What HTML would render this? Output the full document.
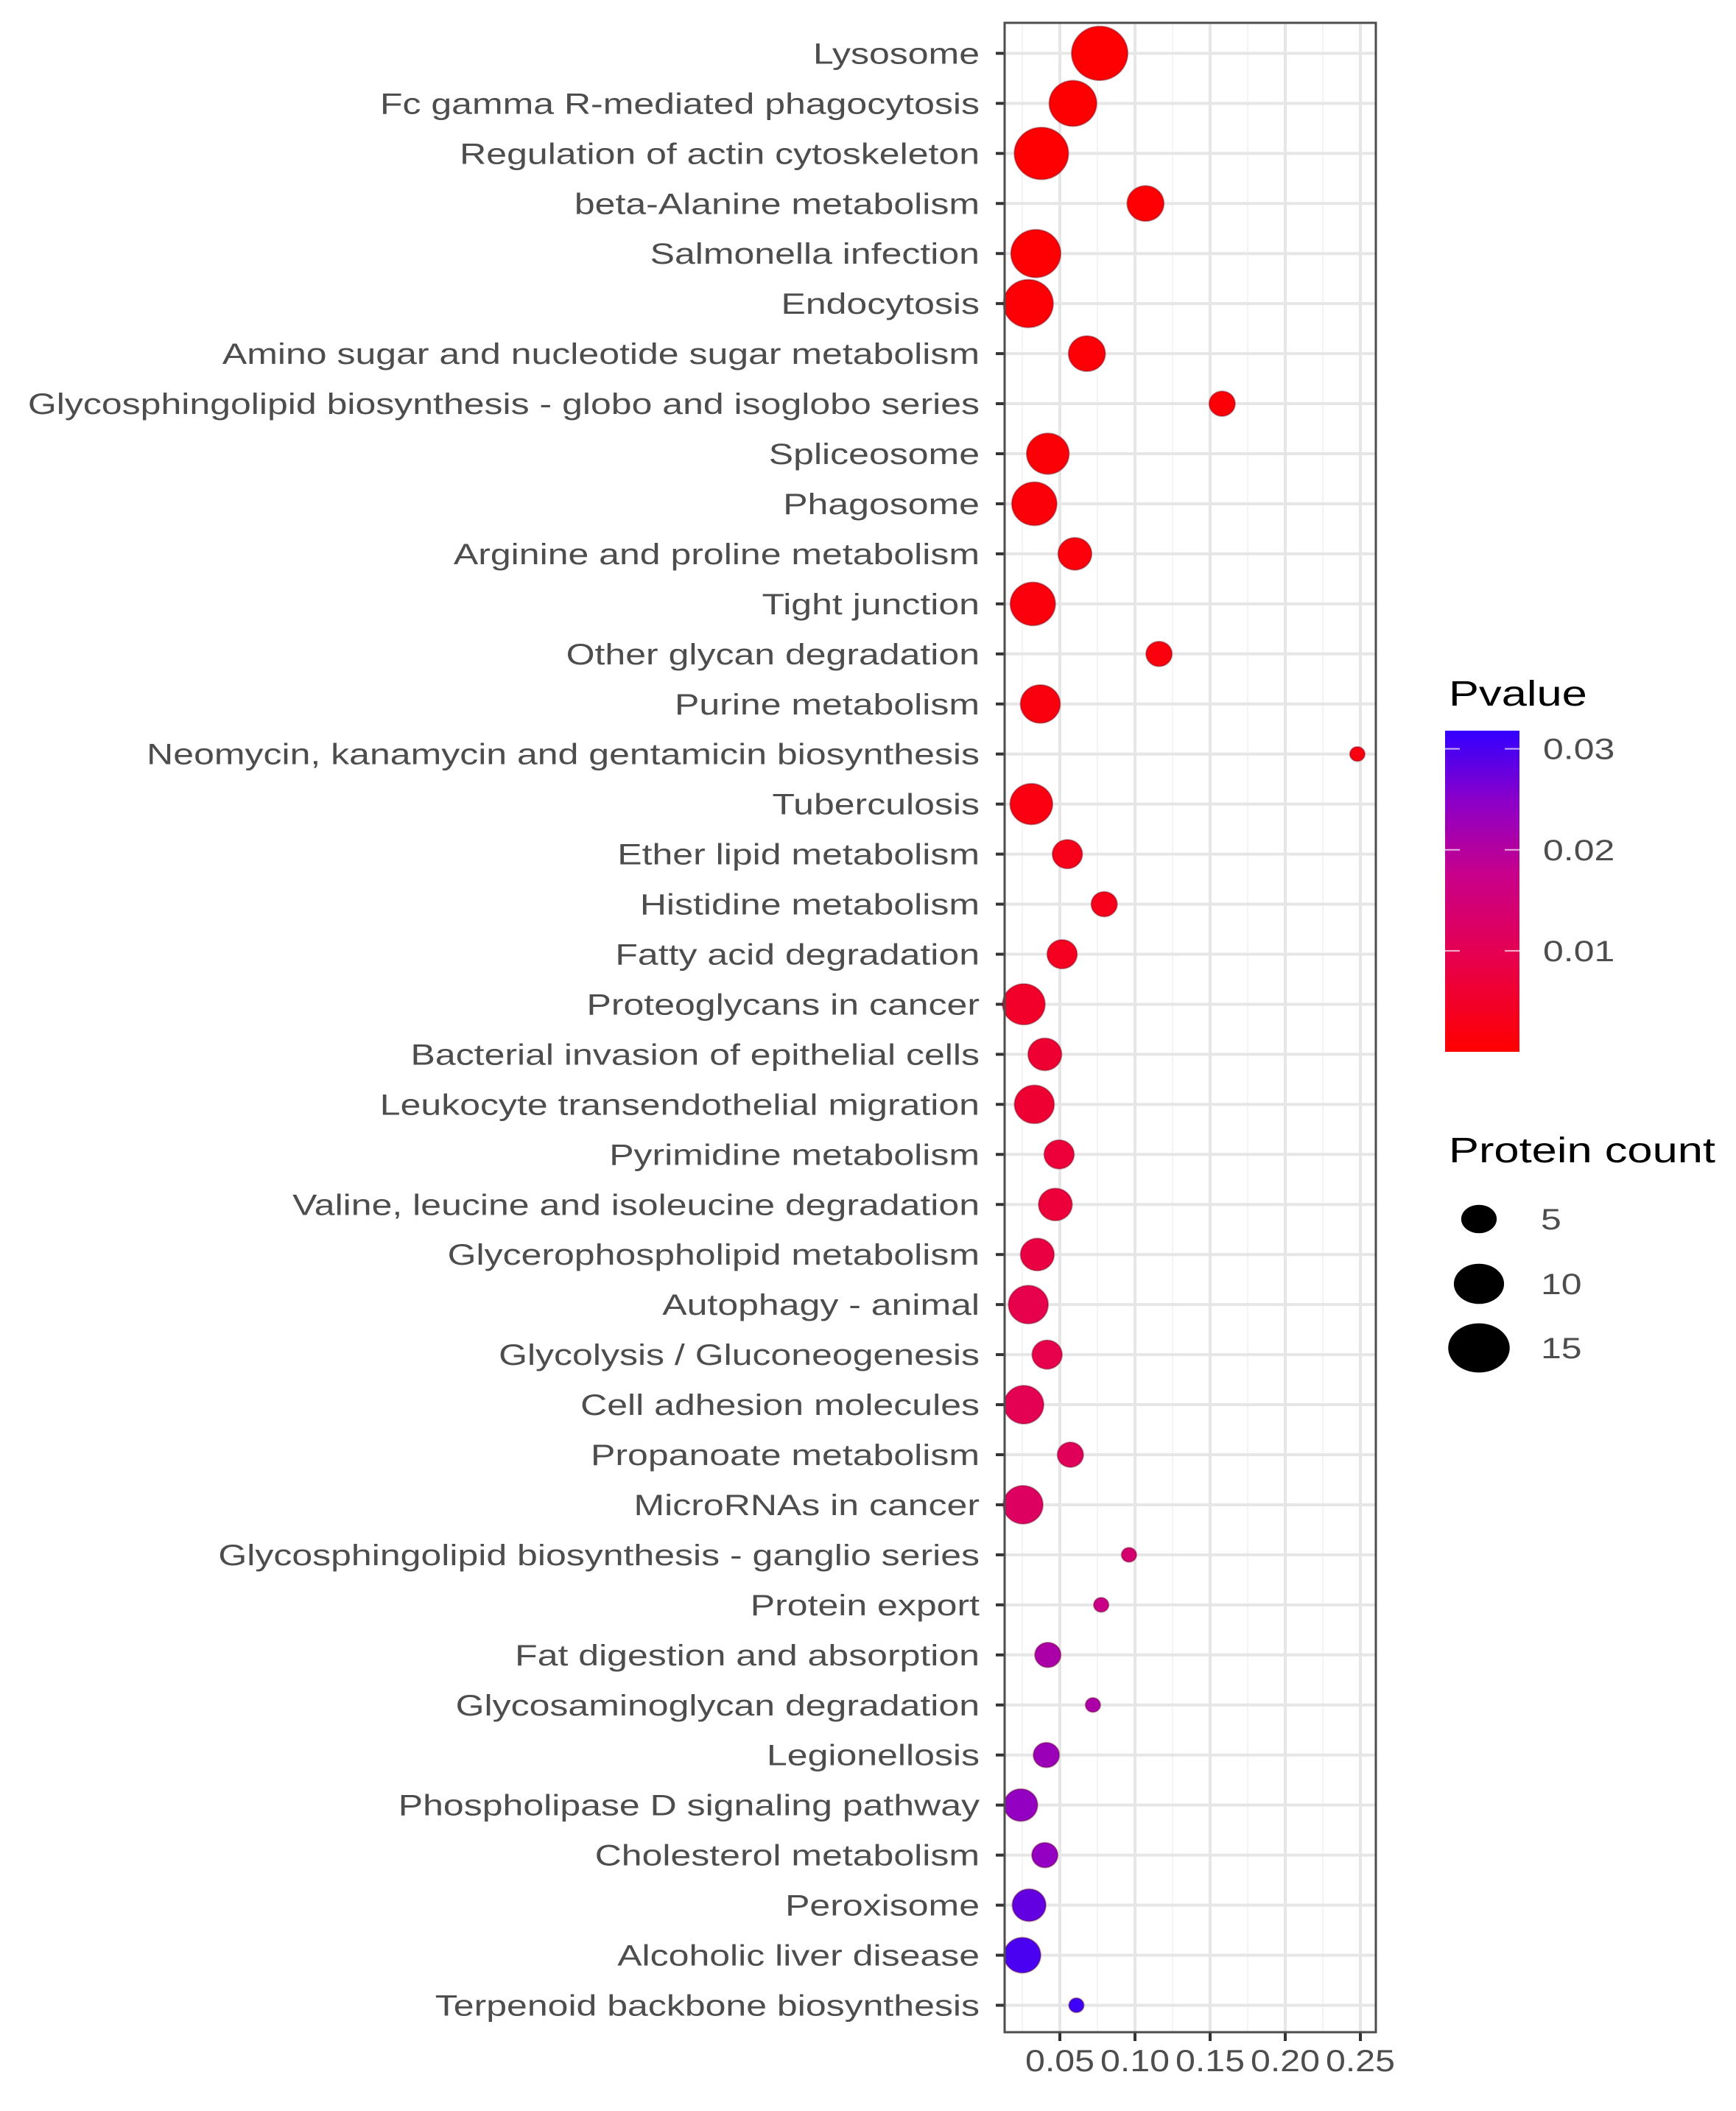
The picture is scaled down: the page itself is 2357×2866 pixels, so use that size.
<!DOCTYPE html>
<html><head><meta charset="utf-8"><style>
html,body{margin:0;padding:0;background:#fff;}
svg{display:block;font-family:"Liberation Sans",Arial,sans-serif;}
</style></head><body>
<svg id="chart" width="2357" height="2866" viewBox="0 0 2357 2866" xmlns="http://www.w3.org/2000/svg">
<defs>
<linearGradient id="pgrad" x1="0" y1="1" x2="0" y2="0">
<stop offset="0" stop-color="#ff0000"/>
<stop offset="0.3" stop-color="#e6004f"/>
<stop offset="0.55" stop-color="#c8008a"/>
<stop offset="0.78" stop-color="#8c00c8"/>
<stop offset="1" stop-color="#3300ff"/>
</linearGradient>
</defs>
<rect x="0" y="0" width="2357" height="2866" fill="#fff"/>
<g id="grid"></g>
<g id="yaxis"></g>
<g id="xaxis"></g>
<g id="points"></g>
<rect x="1364" y="31" width="504" height="2728" fill="none" stroke="#4d4d4d" stroke-width="3"/>
<g>
<text transform="translate(1967,958) scale(1.28,1)" font-size="48" fill="#000">Pvalue</text>
<rect x="1962" y="992" width="101" height="436" fill="url(#pgrad)"/>
<g id="cbticks"></g>
</g>
<g>
<text transform="translate(1967,1578) scale(1.28,1)" font-size="48" fill="#000">Protein count</text>
<g id="sizeleg"></g>
</g>
</svg>
<script>
const categories = ["Lysosome","Fc gamma R-mediated phagocytosis","Regulation of actin cytoskeleton","beta-Alanine metabolism","Salmonella infection","Endocytosis","Amino sugar and nucleotide sugar metabolism","Glycosphingolipid biosynthesis - globo and isoglobo series","Spliceosome","Phagosome","Arginine and proline metabolism","Tight junction","Other glycan degradation","Purine metabolism","Neomycin, kanamycin and gentamicin biosynthesis","Tuberculosis","Ether lipid metabolism","Histidine metabolism","Fatty acid degradation","Proteoglycans in cancer","Bacterial invasion of epithelial cells","Leukocyte transendothelial migration","Pyrimidine metabolism","Valine, leucine and isoleucine degradation","Glycerophospholipid metabolism","Autophagy - animal","Glycolysis / Gluconeogenesis","Cell adhesion molecules","Propanoate metabolism","MicroRNAs in cancer","Glycosphingolipid biosynthesis - ganglio series","Protein export","Fat digestion and absorption","Glycosaminoglycan degradation","Legionellosis","Phospholipase D signaling pathway","Cholesterol metabolism","Peroxisome","Alcoholic liver disease","Terpenoid backbone biosynthesis"];
const richFactor = [0.0765,0.0587,0.0377,0.107,0.034,0.029,0.068,0.158,0.042,0.033,0.060,0.032,0.116,0.037,0.248,0.031,0.055,0.0795,0.0515,0.026,0.040,0.033,0.0495,0.047,0.035,0.029,0.0415,0.026,0.057,0.0255,0.096,0.0775,0.042,0.072,0.041,0.024,0.040,0.0295,0.025,0.061];
const proteinCount = [14,10,13,6,11,11,6,3,8,9,5,9,3,7,1,8,4,3,4,8,5,7,4,5,5,7,4,7,3,7,1,1,3,1,3,5,3,5,6,1];
const pValue = [0.0002,0.0003,0.0003,0.0004,0.0005,0.0006,0.0008,0.001,0.001,0.0012,0.0013,0.0015,0.0016,0.0018,0.002,0.002,0.003,0.003,0.004,0.005,0.006,0.006,0.007,0.007,0.008,0.009,0.009,0.010,0.011,0.012,0.014,0.017,0.021,0.021,0.023,0.024,0.024,0.028,0.030,0.031];
const xTicks = [0.05,0.10,0.15,0.20,0.25];
const xTickLabels = ["0.05","0.10","0.15","0.20","0.25"];
const xMinor = [0.025,0.075,0.125,0.175,0.225];
const pTicks = [0.01,0.02,0.03];
const pTickLabels = ["0.01","0.02","0.03"];
const sizeBreaks = [5,10,15];

const NS="http://www.w3.org/2000/svg";
const PX0=1364, PX1=1868, PY0=31, PY1=2759;
const SX=1.25;
const xScale = v => 1337 + v*2040;
const yScale = i => 72.4 + i*67.95;
const rScale = c => 9.8*Math.sqrt(c);
const pY = p => 1428 - (p/0.0318)*436;
const stops=[[0,[255,0,0]],[0.3,[230,0,79]],[0.55,[200,0,138]],[0.78,[140,0,200]],[1,[51,0,255]]];
function pColor(p){let t=Math.max(0,Math.min(1,p/0.0318));for(let k=1;k<stops.length;k++){if(t<=stops[k][0]){const a=stops[k-1],b=stops[k];const u=(t-a[0])/(b[0]-a[0]);const c=a[1].map((x,j)=>Math.round(x+(b[1][j]-x)*u));return `rgb(${c[0]},${c[1]},${c[2]})`;}}return "rgb(51,0,255)";}
function mk(tag,attrs,parent){const e=document.createElementNS(NS,tag);for(const k in attrs)e.setAttribute(k,attrs[k]);parent.appendChild(e);return e;}
const grid=document.getElementById('grid'),yaxis=document.getElementById('yaxis'),xaxis=document.getElementById('xaxis'),pts=document.getElementById('points');
xMinor.forEach(v=>{const l=mk('line',{x1:xScale(v),x2:xScale(v),y1:PY0,y2:PY1,stroke:'#f4f4f4','stroke-width':2},grid);

});
xTicks.forEach((v,i)=>{const l=mk('line',{x1:xScale(v),x2:xScale(v),y1:PY0,y2:PY1,stroke:'#e6e6e6','stroke-width':4},grid);


const t=mk('line',{x1:xScale(v),x2:xScale(v),y1:PY1,y2:PY1+12,stroke:'#333','stroke-width':4},xaxis);


const tx=mk('text',{transform:`translate(${xScale(v)},2812) scale(1.15,1)`,'font-size':42,fill:'#4d4d4d','text-anchor':'middle'},xaxis);
tx.textContent=xTickLabels[i];

});
categories.forEach((c,i)=>{const y=yScale(i);
const l=mk('line',{x1:PX0,x2:PX1,y1:y,y2:y,stroke:'#e6e6e6','stroke-width':4},grid);


const t=mk('line',{x1:PX0-12,x2:PX0,y1:y,y2:y,stroke:'#333','stroke-width':4},yaxis);


const tx=mk('text',{transform:`translate(1330,${y+14}) scale(${SX},1)`,'font-size':40,fill:'#4d4d4d','text-anchor':'end'},yaxis);
tx.textContent=c;


const r=rScale(proteinCount[i]);
const col=pColor(pValue[i]);
const e=mk('ellipse',{cx:xScale(richFactor[i]),cy:y,rx:r*1.04,ry:r,fill:col,stroke:'rgba(90,0,20,0.35)','stroke-width':2},pts);

});
const cbt=document.getElementById('cbticks');
pTicks.forEach((p,i)=>{const y=pY(p);
const a=mk('line',{x1:1962,x2:1982,y1:y,y2:y,stroke:'#fff','stroke-width':2,opacity:0.7},cbt);


const b=mk('line',{x1:2043,x2:2063,y1:y,y2:y,stroke:'#fff','stroke-width':2,opacity:0.7},cbt);


const t=mk('text',{transform:`translate(2095,${y+14}) scale(${SX},1)`,'font-size':40,fill:'#4d4d4d'},cbt);
t.textContent=pTickLabels[i];

});
const sl=document.getElementById('sizeleg');
const sy=[1655,1743,1830];
sizeBreaks.forEach((s,i)=>{const r=rScale(s);
const c=mk('ellipse',{cx:2008,cy:sy[i],rx:r*1.1,ry:r*0.88,fill:'#000'},sl);


const t=mk('text',{transform:`translate(2092,${sy[i]+14}) scale(${SX},1)`,'font-size':40,fill:'#4d4d4d'},sl);
t.textContent=String(s);

});
</script>
</body></html>
